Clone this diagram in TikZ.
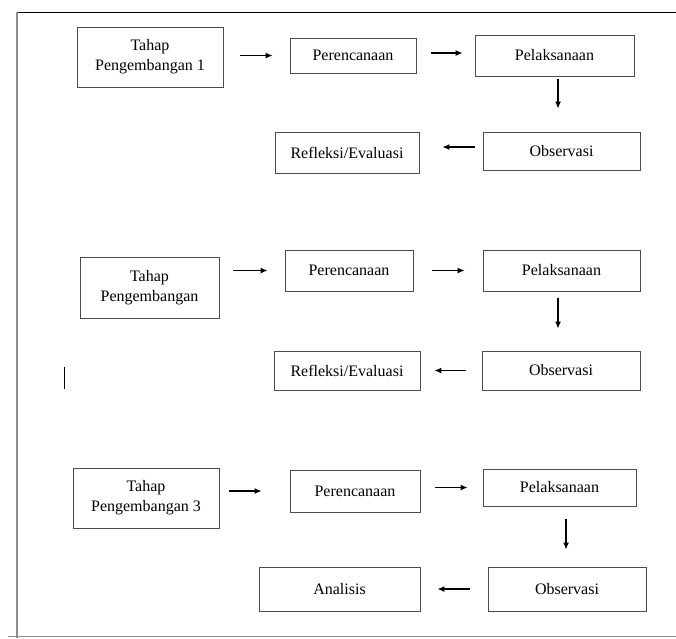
\documentclass[tikz,border=0pt]{standalone}
\usepackage{fontspec}
\setmainfont{Liberation Serif}
\usetikzlibrary{arrows.meta}

\begin{document}
\begin{tikzpicture}[x=1pt,y=-1pt,->,>={Latex[length=7pt,width=6pt]},line width=1.2pt,
                    font=\fontsize{16}{20}\selectfont]
  \tikzstyle{box}=[rectangle,draw=black!70,line width=0.9pt,fill=white,inner sep=0pt,align=center]
  \tikzstyle{frame}=[-,line width=1pt]

  \useasboundingbox (0,0) rectangle (676,638);
  \draw[frame,black] (17,12) -- (676,12);
  \draw[frame,black!45,line width=1.3pt] (17,12) -- (17,638);
  \draw[frame,black!45] (8,636) -- (676,636);
  \draw[frame,black] (64,367) -- (64,389);

  % tahap 1
  \node[box,minimum width=146pt,minimum height=60pt] (T1) at (150,57)    {Tahap\\Pengembangan 1};
  \node[box,minimum width=126pt,minimum height=35pt] (P1) at (353,55.5)  {Perencanaan};
  \node[box,minimum width=159pt,minimum height=41pt] (L1) at (554.5,55.5) {Pelaksanaan};
  \node[box,minimum width=157pt,minimum height=38pt] (O1) at (561.5,151) {Observasi};
  \node[box,minimum width=144pt,minimum height=41pt] (R1) at (347,152.5) {Refleksi/Evaluasi};

  % tahap 2
  \node[box,minimum width=139pt,minimum height=61pt] (T2) at (149.5,287.5) {Tahap\\Pengembangan};
  \node[box,minimum width=128pt,minimum height=41pt] (P2) at (349,270.5)   {Perencanaan};
  \node[box,minimum width=157pt,minimum height=41pt] (L2) at (561.5,270.5) {Pelaksanaan};
  \node[box,minimum width=158pt,minimum height=39pt] (O2) at (561,370.5)   {Observasi};
  \node[box,minimum width=146pt,minimum height=39pt] (R2) at (347,370.5)   {Refleksi/Evaluasi};

  % tahap 3
  \node[box,minimum width=146pt,minimum height=60pt] (T3) at (146,498)     {Tahap\\Pengembangan 3};
  \node[box,minimum width=130pt,minimum height=42pt] (P3) at (355,491)     {Perencanaan};
  \node[box,minimum width=153pt,minimum height=37pt] (L3) at (559.5,487.5) {Pelaksanaan};
  \node[box,minimum width=158pt,minimum height=44pt] (O3) at (567,589)     {Observasi};
  \node[box,minimum width=161pt,minimum height=44pt] (A3) at (339.5,589)   {Analisis};

  \path
(T1.east |- P1.west) edge [shorten <=17pt,shorten >=17pt] (P1.west)
([yshift=2.5pt]P1.east) edge [shorten <=15pt,shorten >=12pt] ([yshift=2.5pt]L1.west)
([xshift=3.5pt]L1.south) edge [shorten <=3pt,shorten >=23pt] ([xshift=3.5pt]L1.south |- O1.north)
([yshift=4pt]O1.west) edge [shorten <=8pt,shorten >=23pt] ([yshift=4pt]O1.west -| R1.east)
(T2.east |- P2.west) edge [shorten <=14pt,shorten >=17pt] (P2.west)
(P2.east) edge [shorten <=19pt,shorten >=18pt] (P2.east -| L2.west)
([xshift=-3.5pt]L2.south) edge [shorten <=7pt,shorten >=22pt] ([xshift=-3.5pt]L2.south |- O2.north)
(O2.west) edge [shorten <=16pt,shorten >=14pt] (O2.west -| R2.east)
(T3.east |- P3.west) edge [shorten <=10pt,shorten >=28pt] (P3.west)
(P3.east |- L3.west) edge [shorten <=15pt,shorten >=15pt] (L3.west)
([xshift=6.5pt]L3.south) edge [shorten <=13pt,shorten >=17pt] ([xshift=6.5pt]L3.south |- O3.north)
(O3.west) edge [shorten <=18pt,shorten >=17pt] (A3.east)
;

\end{tikzpicture}
\end{document}
